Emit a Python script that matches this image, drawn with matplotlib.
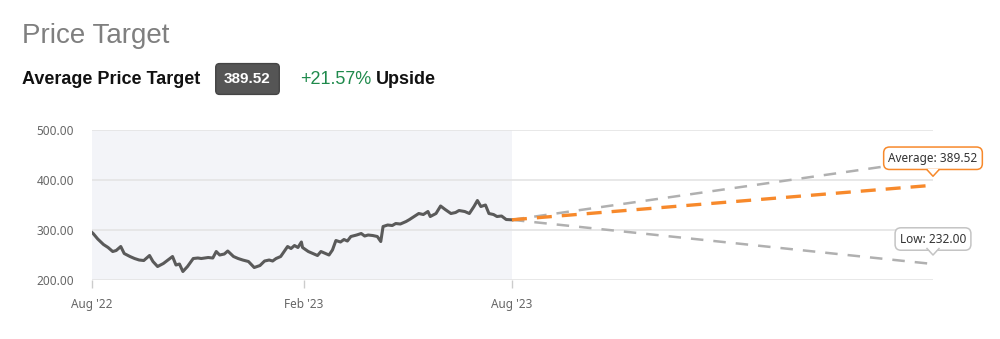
import numpy as np
import matplotlib
matplotlib.use("Agg")
import matplotlib.pyplot as plt
import matplotlib.transforms as mtransforms
from matplotlib.patches import Polygon

# price history: days since 1 Aug 2022 and close price
days = [0, 1, 5, 10, 14, 18, 21, 25, 28, 33, 37, 41, 45, 50, 53, 57, 62, 66,
        70, 73, 76, 79, 83, 88, 92, 95, 101, 105, 108, 111, 115, 118, 123, 127,
        131, 136, 141, 146, 150, 154, 157, 160, 164, 167, 170, 173, 176, 179,
        182, 183, 188, 192, 196, 199, 203, 206, 209, 212, 216, 219, 222, 225,
        230, 234, 237, 240, 244, 248, 251, 253, 257, 261, 264, 268, 273, 276,
        280, 284, 288, 292, 294, 299, 303, 307, 312, 316, 319, 324, 328, 332,
        335, 338, 342, 345, 349, 352, 356, 360, 365]
price = [295, 293, 282, 271, 265, 257, 259, 267, 253, 247, 243, 240, 239, 249,
         237, 227, 233, 240, 247, 230, 232, 217, 227, 243, 244, 243, 245, 244,
         257, 250, 252, 258, 247, 243, 240, 237, 225, 229, 238, 240, 238, 243,
         247, 257, 267, 263, 269, 265, 276, 265, 257, 253, 249, 257, 253, 250,
         260, 279, 276, 281, 278, 287, 290, 293, 288, 290, 289, 287, 277, 307,
         310, 309, 313, 312, 317, 321, 327, 333, 331, 337, 327, 333, 348, 341,
         333, 335, 339, 337, 333, 347, 359, 347, 350, 333, 331, 327, 328, 321,
         320.4]

target_day = 731
high_target = 441.0
avg_target = 389.52
low_target = 232.00
upside = "+21.57%"

x_ticks = [0, 184, 365]
x_labels = ["Aug '22", "Feb '23", "Aug '23"]
y_ticks = [200, 300, 400, 500]

orange = "#f7892b"
dash_gray = "#b0b0b0"
tick_color = "#666666"

fig = plt.figure(figsize=(10, 3.39), dpi=100)
ax = fig.add_axes([0.092, 0.174, 0.841, 0.4425])

ax.axvspan(0, 365, color="#f3f4f8", zorder=0, lw=0)
for yv in y_ticks:
    ax.axhline(yv, color="#e4e4e4", lw=1.2, zorder=1)

ax.plot(days, price, color="#5a5a5a", lw=2.2, zorder=3, solid_joinstyle="round")

last = price[-1]
ax.plot([365, target_day], [last, high_target], color=dash_gray, lw=1.8,
        dashes=(5, 4), zorder=2)
ax.plot([365, target_day], [last, low_target], color=dash_gray, lw=1.8,
        dashes=(5, 4), zorder=2)
ax.plot([365, target_day], [last, avg_target], color=orange, lw=2.4,
        dashes=(4.5, 3), zorder=4)

ax.set_xlim(0, target_day)
ax.set_ylim(200, 500)
ax.set_yticks(y_ticks)
ax.set_yticklabels(["%.2f" % v for v in y_ticks])
ax.set_xticks(x_ticks)
ax.set_xticklabels(x_labels)
for s in ax.spines.values():
    s.set_visible(False)
ax.tick_params(axis="y", length=0, pad=13, labelsize=8.5, labelcolor=tick_color)
ax.tick_params(axis="x", length=6, width=1, color="#cccccc", pad=7,
               labelsize=8.5, labelcolor=tick_color)
for lab in ax.get_xticklabels() + ax.get_yticklabels():
    lab.set_family("Noto Sans")


def callout(x, y, text, edge, lift):
    ax.annotate(text, xy=(x, y), xytext=(0, lift), textcoords="offset pixels",
                ha="center", va="center", fontsize=8.5, color="#333333",
                family="Noto Sans", zorder=6, annotation_clip=False,
                bbox=dict(boxstyle="round,pad=0.4,rounding_size=0.5",
                          fc="white", ec=edge, lw=1.1))
    tr = fig.dpi_scale_trans + mtransforms.ScaledTranslation(x, y, ax.transData)
    tip, base, half = 0.09, 0.165, 0.06
    tri = Polygon([(-half, base), (0, tip), (half, base)], closed=True,
                  fc="white", ec="none", transform=tr, zorder=7, clip_on=False)
    ax.add_patch(tri)
    ax.plot([-half, 0, half], [base - 0.01, tip, base - 0.01], color=edge,
            lw=1.1, transform=tr, zorder=8, clip_on=False)


callout(target_day, avg_target, "Average: %.2f" % avg_target, orange, 27)
callout(target_day, low_target, "Low: %.2f" % low_target, "#c4c4c4", 25)

# header
fig.text(0.022, 1 - 43 / 339, "Price Target", fontsize=20, color="#7f7f7f",
         family="Liberation Sans", va="baseline")
fig.text(0.022, 1 - 84 / 339, "Average Price Target", fontsize=13,
         fontweight="bold", color="#111111", family="Liberation Sans",
         va="baseline")
fig.text(0.2475, 1 - 79 / 339, "%.2f" % avg_target, fontsize=11,
         fontweight="bold", color="white", family="Liberation Sans",
         ha="center", va="center",
         bbox=dict(boxstyle="round,pad=0.55,rounding_size=0.25",
                   fc="#555555", ec="#444444", lw=1))
fig.text(0.300, 1 - 84 / 339, upside, fontsize=13, color="#1f8a4c",
         family="Liberation Sans", va="baseline")
fig.text(0.376, 1 - 84 / 339, "Upside", fontsize=13, fontweight="bold",
         color="#111111", family="Liberation Sans", va="baseline")

fig.savefig("out.png", dpi=100)
